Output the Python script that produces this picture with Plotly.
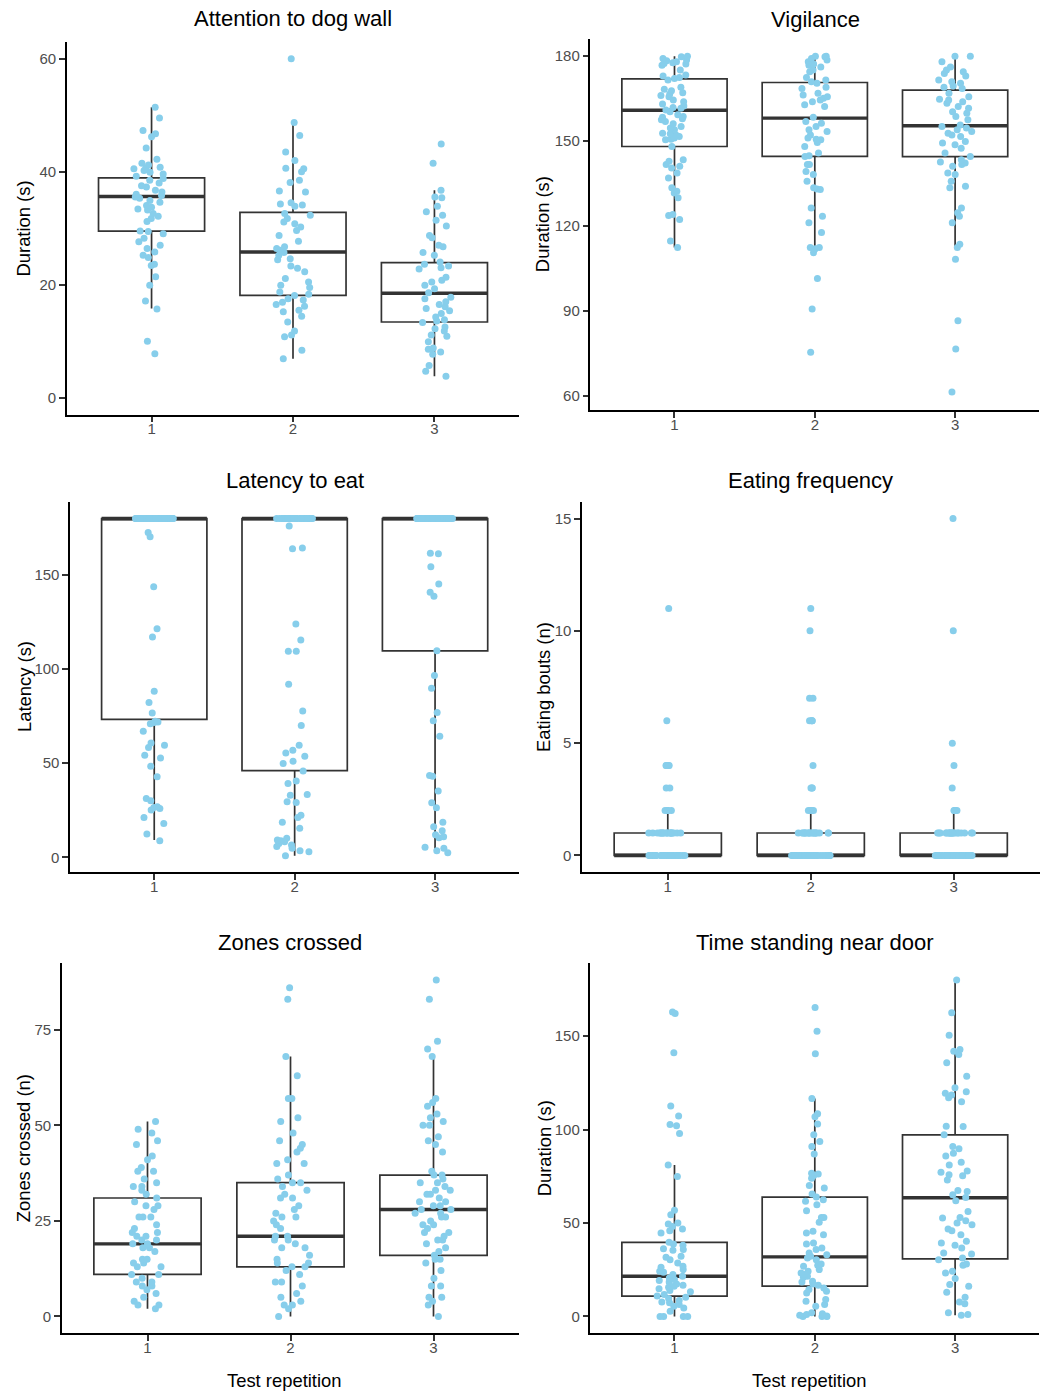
import plotly.graph_objects as go

W, H = 1052, 1391

# ---------------- data ----------------
categories = [1, 2, 3]
category_labels = ["1", "2", "3"]
x_title = "Test repetition"

# Attention to dog wall (s)
att_1 = [51.4, 49.5, 47.3, 46.7, 46.2, 44.2, 42.2, 41.5, 41.2, 40.8, 40.6, 40.5, 40.2, 39.9, 39.6, 39.2,
         38.8, 38.5, 38.0, 37.5, 37.3, 36.7, 36.4, 36.0, 35.8, 35.5, 35.3, 34.9, 34.6, 34.0, 33.7, 33.4,
         33.2, 32.6, 32.1, 31.7, 31.2, 29.5, 29.4, 29.0, 28.2, 27.6, 27.0, 26.4, 25.8, 25.2, 24.8, 23.6,
         23.4, 21.4, 19.9, 17.1, 15.7, 10.0, 7.8]
att_2 = [60.0, 48.7, 46.4, 43.5, 42.0, 40.6, 40.5, 40.0, 38.5, 38.1, 36.6, 36.4, 34.5, 34.3, 34.1, 33.9,
         32.6, 32.3, 31.7, 31.1, 30.8, 30.2, 29.6, 28.7, 27.7, 26.7, 26.4, 26.1, 25.7, 25.2, 24.6, 24.4,
         23.3, 22.9, 22.3, 21.1, 20.5, 19.9, 19.5, 18.7, 18.3, 18.1, 17.5, 17.3, 16.9, 16.5, 16.2, 15.5,
         15.2, 14.4, 13.4, 11.8, 11.1, 10.8, 8.4, 6.9]
att_3 = [44.9, 41.5, 36.7, 35.5, 35.4, 33.9, 32.9, 32.3, 31.4, 30.4, 28.7, 28.3, 27.0, 26.7, 25.7, 25.2,
         24.0, 23.6, 23.3, 23.0, 22.8, 21.3, 20.8, 20.5, 19.9, 19.3, 18.6, 17.8, 17.5, 17.0, 16.5, 16.1,
         15.8, 15.4, 14.9, 14.3, 13.8, 13.6, 13.3, 12.5, 12.2, 11.8, 11.1, 10.9, 9.9, 8.8, 8.6, 8.1, 7.7,
         5.7, 4.7, 3.8]
att_q1 = [29.5, 18.1, 13.4]
att_med = [35.6, 25.8, 18.5]
att_q3 = [38.9, 32.8, 23.9]
att_lo = [15.8, 6.9, 3.8]
att_hi = [51.4, 48.5, 36.7]
att_ticks = [0, 20, 40, 60]

# Vigilance (s)
vig_1 = [180, 179.8, 179.2, 178.6, 178.4, 178.0, 177.7, 177.4, 177.2, 176.8, 175.1, 173.3, 173.0, 172.5,
         172.1, 171.6, 169.0, 168.3, 167.8, 167.1, 166.6, 166.1, 165.7, 164.5, 163.9, 163.1, 162.4, 161.9,
         161.6, 161.0, 160.4, 159.3, 158.7, 158.4, 157.9, 157.5, 156.9, 156.1, 155.2, 154.6, 154.0, 152.8,
         152.6, 152.2, 151.6, 151.1, 150.7, 150.5, 148.1, 143.4, 142.9, 141.7, 141.1, 140.5, 138.7, 137.0,
         133.5, 132.3, 131.7, 130.0, 124.1, 123.7, 122.3, 114.7, 112.4]
vig_2 = [180, 180, 179.8, 179.2, 178.6, 178.0, 177.2, 176.8, 176.2, 175.1, 174.5, 172.5, 171.6, 171.0,
         170.4, 169.0, 168.6, 166.9, 166.3, 165.7, 165.1, 164.5, 163.9, 162.8, 162.2, 158.4, 156.9, 156.3,
         155.2, 154.0, 153.4, 152.2, 151.1, 150.7, 150.5, 149.5, 148.1, 145.8, 144.8, 144.6, 141.7, 141.7,
         139.3, 138.2, 135.8, 133.5, 133.1, 132.9, 126.4, 123.5, 121.2, 117.7, 112.4, 112.4, 112.0, 110.6,
         101.5, 90.7, 75.4]
vig_3 = [180, 180, 178.0, 176.2, 175.1, 174.5, 173.9, 173.0, 171.6, 171.0, 170.4, 169.5, 169.0, 168.6,
         166.9, 165.7, 164.8, 164.5, 163.9, 163.4, 162.2, 161.6, 160.4, 159.8, 158.7, 157.5, 155.7, 155.2,
         154.6, 154.0, 153.4, 152.8, 152.2, 151.6, 149.9, 149.3, 148.7, 147.5, 145.8, 144.6, 143.4, 142.6,
         142.3, 141.7, 141.1, 138.7, 138.2, 135.8, 134.1, 133.5, 126.4, 124.7, 123.5, 121.2, 113.6, 112.4,
         108.3, 86.6, 76.6, 61.4]
vig_q1 = [148.1, 144.6, 144.5]
vig_med = [160.9, 158.1, 155.4]
vig_q3 = [172.0, 170.7, 168.0]
vig_lo = [112.4, 110.6, 112.4]
vig_hi = [180, 180, 180]
vig_ticks = [60, 90, 120, 150, 180]

# Latency to eat (s); many animals never ate (capped at 180 s)
lat_cap = 180
lat_n_cap = [45, 40, 50]
lat_1 = [172.6, 170.3, 143.8, 121.4, 117.0, 88.3, 82.2, 76.7, 72.3, 71.9, 71.6, 71.0, 67.0, 60.8, 59.5,
         58.3, 54.2, 52.8, 48.4, 42.8, 31.3, 30.0, 26.9, 26.5, 26.0, 25.1, 21.2, 18.0, 12.4, 8.8]
lat_2 = [176.1, 164.3, 164.0, 124.0, 115.5, 109.5, 109.5, 92.0, 77.7, 70.1, 59.5, 56.9, 55.5, 53.7, 51.1,
         49.8, 45.9, 40.5, 39.2, 33.4, 33.0, 29.5, 29.2, 22.4, 21.2, 18.7, 15.4, 10.1, 9.2, 8.8, 8.3, 7.4,
         6.5, 5.7, 4.8, 3.5, 3.0, 0.9]
lat_3 = [161.5, 161.3, 154.4, 145.2, 140.8, 138.7, 109.7, 96.6, 89.9, 76.9, 72.6, 64.3, 43.5, 43.1, 35.3,
         29.0, 26.3, 18.6, 16.3, 14.1, 12.0, 11.0, 10.4, 5.3, 4.8, 3.5, 2.5]
lat_q1 = [73.3, 46.1, 109.7]
lat_med = [180, 180, 180]
lat_q3 = [180, 180, 180]
lat_lo = [9.2, 0.9, 2.5]
lat_hi = [180, 180, 180]
lat_ticks = [0, 50, 100, 150]

# Eating frequency (bouts) as value / count tables
eat_values_1 = [0, 1, 2, 3, 4, 6, 11]
eat_counts_1 = [36, 20, 4, 2, 4, 1, 1]
eat_values_2 = [0, 1, 2, 3, 4, 6, 7, 10, 11]
eat_counts_2 = [35, 19, 4, 3, 1, 4, 2, 1, 1]
eat_values_3 = [0, 1, 2, 3, 4, 5, 10, 15]
eat_counts_3 = [38, 20, 4, 1, 1, 1, 1, 1]
eat_q1 = [0, 0, 0]
eat_med = [0, 0, 0]
eat_q3 = [1, 1, 1]
eat_lo = [0, 0, 0]
eat_hi = [2, 2, 2]
eat_ticks = [0, 5, 10, 15]

# Zones crossed (n)
zon_1 = [51, 49, 48, 46, 45, 42, 41, 39, 38, 38, 36, 35, 34, 34, 33, 32, 31, 30, 29, 29, 28, 26, 26, 26,
         24, 23, 22, 22, 21, 21, 20, 20, 19, 19, 18, 18, 17, 15, 15, 14, 14, 13, 13, 11, 11, 10, 9, 9, 8,
         8, 7, 6, 5, 4, 3, 3, 2]
zon_2 = [86, 83, 68, 63, 57, 57, 52, 51, 48, 46, 45, 44, 43, 41, 40, 40, 37, 36, 35, 35, 34, 33, 32, 31,
         31, 29, 28, 27, 26, 26, 25, 24, 23, 21, 21, 20, 20, 19, 18, 18, 16, 15, 14, 14, 13, 13, 12, 11,
         9, 9, 8, 6, 5, 4, 3, 3, 2, 0]
zon_3 = [88, 83, 72, 70, 68, 57, 56, 55, 53, 52, 51, 50, 50, 47, 46, 45, 43, 38, 37, 37, 36, 35, 35, 34,
         33, 33, 32, 32, 31, 30, 30, 29, 29, 28, 28, 27, 27, 26, 26, 25, 24, 24, 23, 22, 22, 21, 20, 20,
         19, 18, 17, 16, 15, 15, 14, 12, 10, 8, 8, 5, 5, 4, 3, 0]
zon_q1 = [11, 13, 16]
zon_med = [19, 21, 28]
zon_q3 = [31, 35, 37]
zon_lo = [2, 0, 0]
zon_hi = [51, 68, 68]
zon_ticks = [0, 25, 50, 75]

# Time standing near door (s)
tim_1 = [163.0, 162.1, 141.1, 112.6, 107.3, 102.8, 102.1, 97.9, 81.1, 74.9, 56.8, 54.4, 50.0, 49.5, 48.2,
         46.8, 45.9, 44.7, 39.7, 38.8, 38.1, 36.3, 35.8, 35.4, 32.2, 31.7, 30.4, 28.6, 26.9, 26.3, 25.1,
         24.2, 23.7, 22.4, 21.5, 20.6, 19.8, 19.2, 18.5, 17.4, 16.7, 16.2, 15.7, 14.9, 13.9, 13.2, 11.7,
         10.9, 10.3, 9.6, 8.5, 7.8, 7.3, 6.4, 5.5, 4.6, 2.8, 0, 0, 0, 0]
tim_2 = [165.3, 152.7, 140.6, 116.7, 108.5, 106.9, 103.0, 97.2, 93.6, 90.9, 87.0, 76.7, 76.2, 75.4, 74.0,
         70.1, 68.7, 65.5, 63.9, 62.5, 61.6, 59.8, 56.6, 53.0, 53.0, 50.4, 45.6, 44.7, 43.8, 39.3, 38.8,
         36.7, 35.8, 34.0, 33.1, 32.2, 31.3, 30.4, 28.1, 27.4, 26.9, 25.1, 24.2, 23.3, 22.4, 21.5, 21.0,
         18.9, 18.5, 17.4, 16.7, 15.3, 14.4, 13.5, 12.6, 9.1, 8.2, 6.4, 5.5, 2.0, 1.4, 1.1, 0.7, 0.2, 0, 0, 0]
tim_3 = [180, 162.5, 150.5, 142.9, 142.0, 140.2, 135.8, 128.6, 122.4, 120.3, 119.4, 118.5, 117.1, 114.9,
         101.8, 101.6, 97.2, 90.9, 89.7, 87.4, 85.9, 82.6, 81.1, 77.9, 77.2, 75.8, 75.3, 73.1, 67.4, 66.9,
         65.1, 63.7, 61.9, 56.2, 53.0, 52.7, 51.2, 50.0, 49.1, 46.8, 45.9, 43.8, 40.2, 39.3, 38.1, 36.7,
         34.0, 33.5, 31.3, 30.4, 28.1, 27.4, 24.2, 23.3, 20.3, 17.1, 16.2, 13.0, 10.3, 7.7, 6.8, 2.0, 1.1, 0.7]
tim_q1 = [10.9, 16.2, 30.8]
tim_med = [21.5, 31.9, 63.5]
tim_q3 = [39.7, 63.9, 97.2]
tim_lo = [0, 0, 0.7]
tim_hi = [81.1, 116.7, 180]
tim_ticks = [0, 50, 100, 150]

titles = ["Attention to dog wall", "Vigilance", "Latency to eat",
          "Eating frequency", "Zones crossed", "Time standing near door"]
y_titles = ["Duration (s)", "Duration (s)", "Latency (s)",
            "Eating bouts (n)", "Zones crossed (n)", "Duration (s)"]


def expand_counts(values, counts):
    out = []
    for v, c in zip(values, counts):
        out.extend([v] * c)
    return out


lat_groups = [[lat_cap] * n + g for n, g in zip(lat_n_cap, [lat_1, lat_2, lat_3])]
eat_groups = [expand_counts(eat_values_1, eat_counts_1),
              expand_counts(eat_values_2, eat_counts_2),
              expand_counts(eat_values_3, eat_counts_3)]

panel_data = [
    dict(groups=[att_1, att_2, att_3], q1=att_q1, med=att_med, q3=att_q3, lo=att_lo, hi=att_hi, ticks=att_ticks),
    dict(groups=[vig_1, vig_2, vig_3], q1=vig_q1, med=vig_med, q3=vig_q3, lo=vig_lo, hi=vig_hi, ticks=vig_ticks),
    dict(groups=lat_groups, q1=lat_q1, med=lat_med, q3=lat_q3, lo=lat_lo, hi=lat_hi, ticks=lat_ticks),
    dict(groups=eat_groups, q1=eat_q1, med=eat_med, q3=eat_q3, lo=eat_lo, hi=eat_hi, ticks=eat_ticks),
    dict(groups=[zon_1, zon_2, zon_3], q1=zon_q1, med=zon_med, q3=zon_q3, lo=zon_lo, hi=zon_hi, ticks=zon_ticks),
    dict(groups=[tim_1, tim_2, tim_3], q1=tim_q1, med=tim_med, q3=tim_q3, lo=tim_lo, hi=tim_hi, ticks=tim_ticks),
]

# ---------------- layout (pixel geometry) ----------------
# plot area: left, right, top, bottom in px; title centre; y-title x centre
geom = [
    dict(l=66.7, r=519.3, t=41.7, b=414.7, yr=[-3, 63], tc=(293, 18.5), ytx=23.3),
    dict(l=590.3, r=1039.3, t=39.3, b=410.0, yr=[55.05, 185.95], tc=(815, 19.2), ytx=542.5),
    dict(l=70.0, r=519.3, t=501.7, b=872.3, yr=[-7.95, 188.95], tc=(294.7, 480.8), ytx=24.0),
    dict(l=582.0, r=1039.5, t=501.7, b=872.3, yr=[-0.75, 15.75], tc=(810.7, 481.0), ytx=543.0),
    dict(l=61.7, r=519.3, t=963.3, b=1333.3, yr=[-4.4, 92.4], tc=(290.3, 942.5), ytx=23.0),
    dict(l=590.3, r=1039.3, t=963.3, b=1333.3, yr=[-9, 189], tc=(814.8, 942.5), ytx=544.0),
]
x_title_pos = {4: (284.2, 1380.0), 5: (809.8, 1380.0)}


def px(x):
    return x / W


def py(y):
    return 1 - y / H


FONT = "Liberation Sans, Arial, sans-serif"
POINT_COLOR = "#87CEEB"
BOX_COLOR = "#333333"

fig = go.Figure()
annotations = []
layout_axes = {}

for i, (pdata, g) in enumerate(zip(panel_data, geom)):
    n = i + 1
    xa = "x" if n == 1 else f"x{n}"
    ya = "y" if n == 1 else f"y{n}"

    # box with whiskers
    fig.add_trace(go.Box(
        x=categories, q1=pdata["q1"], median=pdata["med"], q3=pdata["q3"],
        lowerfence=pdata["lo"], upperfence=pdata["hi"],
        width=0.75, whiskerwidth=0, boxpoints=False,
        line=dict(color=BOX_COLOR, width=1.7), fillcolor="white",
        xaxis=xa, yaxis=ya, showlegend=False, hoverinfo="skip",
    ))
    # thick median line
    fig.add_trace(go.Box(
        x=categories, q1=pdata["med"], median=pdata["med"], q3=pdata["med"],
        lowerfence=pdata["med"], upperfence=pdata["med"],
        width=0.75, whiskerwidth=0, boxpoints=False,
        line=dict(color=BOX_COLOR, width=3.4), fillcolor="rgba(0,0,0,0)",
        xaxis=xa, yaxis=ya, showlegend=False, hoverinfo="skip",
    ))
    # jittered points
    xs, ys = [], []
    for c, grp in zip(categories, pdata["groups"]):
        xs.extend([c] * len(grp))
        ys.extend(grp)
    fig.add_trace(go.Box(
        x=xs, y=ys, boxpoints="all", jitter=0.36, pointpos=0, width=0.75, whiskerwidth=0,
        marker=dict(color=POINT_COLOR, size=7, line=dict(width=0)),
        line=dict(color="rgba(0,0,0,0)", width=0), fillcolor="rgba(0,0,0,0)",
        xaxis=xa, yaxis=ya, showlegend=False, hoverinfo="skip",
    ))

    common = dict(showgrid=False, zeroline=False, showline=True, linecolor="black", linewidth=1.7,
                  ticks="outside", ticklen=5.7, tickwidth=1.5, tickcolor=BOX_COLOR,
                  tickfont=dict(family=FONT, size=15, color="#4D4D4D"), fixedrange=True)
    layout_axes["xaxis" if n == 1 else f"xaxis{n}"] = dict(
        domain=[px(g["l"]), px(g["r"])], anchor=ya, range=[0.4, 3.6],
        tickmode="array", tickvals=categories, ticktext=category_labels,
        ticklabelstandoff=-6, **common)
    layout_axes["yaxis" if n == 1 else f"yaxis{n}"] = dict(
        domain=[py(g["b"]), py(g["t"])], anchor=xa, range=g["yr"],
        tickmode="array", tickvals=pdata["ticks"], ticktext=[str(t) for t in pdata["ticks"]], **common)

    annotations.append(dict(text=titles[i], x=px(g["tc"][0]), y=py(g["tc"][1]), xref="paper", yref="paper",
                            xanchor="center", yanchor="middle", showarrow=False,
                            font=dict(family=FONT, size=22, color="black")))
    annotations.append(dict(text=y_titles[i], x=px(g["ytx"]), y=py((g["t"] + g["b"]) / 2),
                            xref="paper", yref="paper", textangle=-90,
                            xanchor="center", yanchor="middle", showarrow=False,
                            font=dict(family=FONT, size=18.4, color="black")))
    if i in x_title_pos:
        tx, ty = x_title_pos[i]
        annotations.append(dict(text=x_title, x=px(tx), y=py(ty), xref="paper", yref="paper",
                                xanchor="center", yanchor="middle", showarrow=False,
                                font=dict(family=FONT, size=18.4, color="black")))

fig.update_layout(
    width=W, height=H, margin=dict(l=0, r=0, t=0, b=0),
    paper_bgcolor="white", plot_bgcolor="white", showlegend=False,
    boxmode="overlay", annotations=annotations, **layout_axes,
)

fig.write_html("out.html", config={"displayModeBar": False},
               post_script="document.body.style.margin='0';document.body.style.overflow='hidden';")
